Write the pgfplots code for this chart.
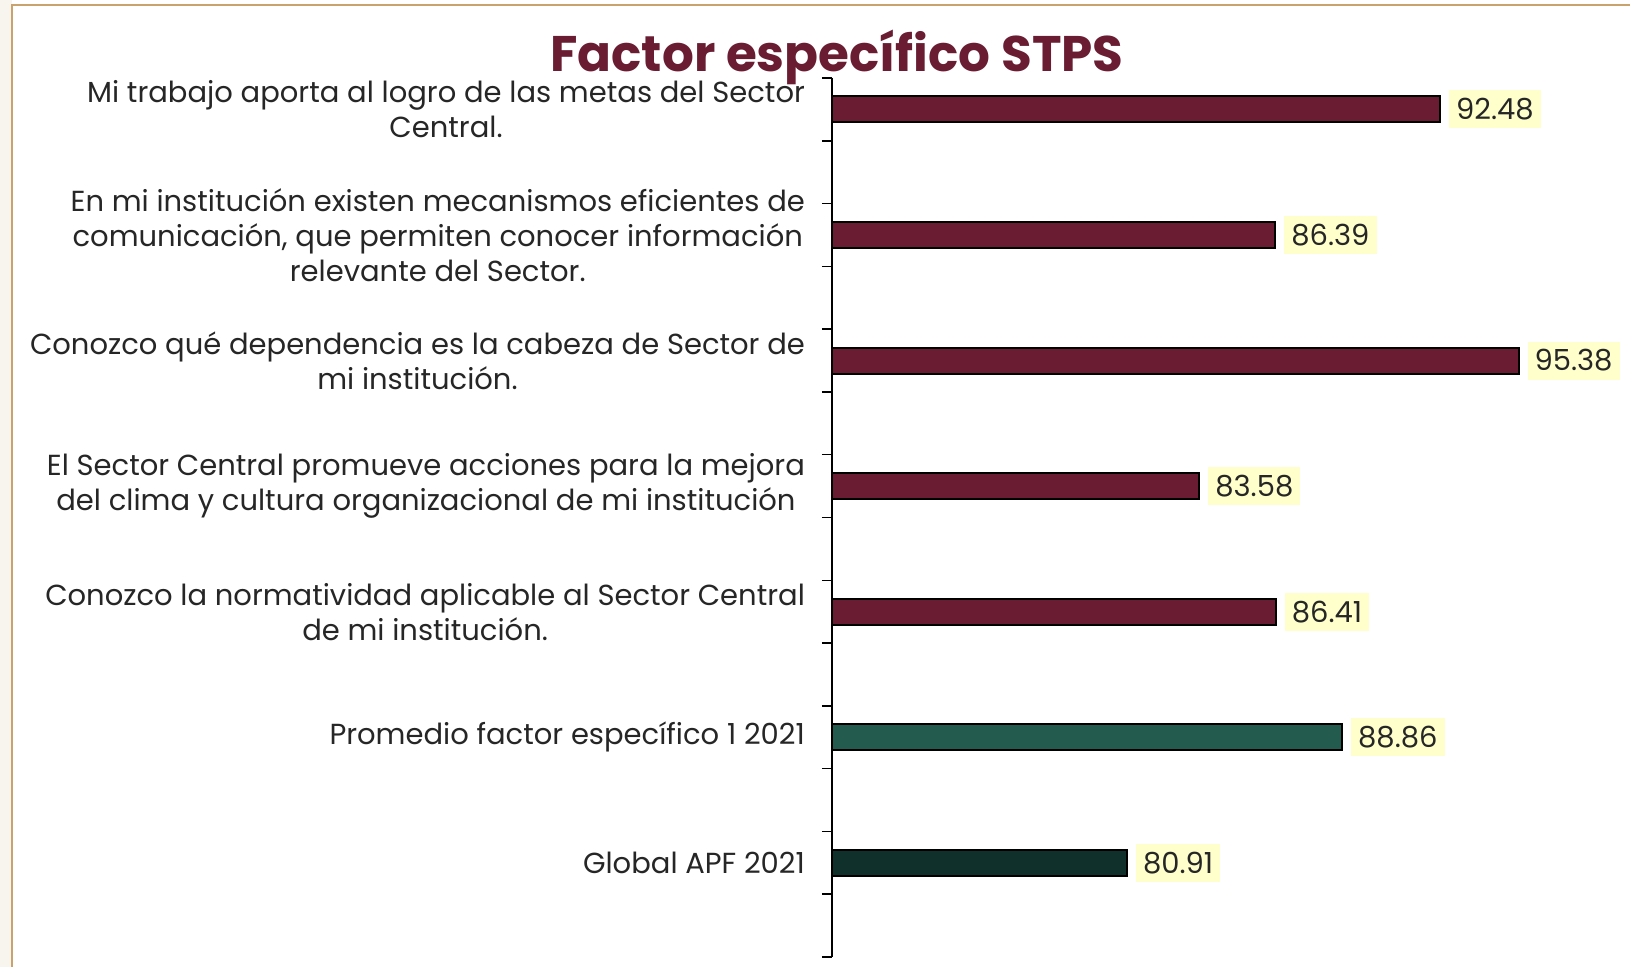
\documentclass[border=0pt]{standalone}
\usepackage{fontspec}
\setmainfont{Poppins}
\usepackage{pgfplots}
\pgfplotsset{compat=1.18}
\definecolor{guinda}{HTML}{691C32}
\definecolor{verde}{HTML}{235B4E}
\definecolor{verdeosc}{HTML}{10312B}
\definecolor{oro}{HTML}{C9A36B}
\definecolor{crema}{HTML}{F8F5EF}
\definecolor{amarillo}{HTML}{FFFFCC}
\definecolor{txt}{HTML}{262626}
\begin{document}
\begin{tikzpicture}
\useasboundingbox (0pt,0pt) rectangle (815pt,483.5pt);
\fill[crema] (0pt,0pt) rectangle (6pt,483.5pt);
\fill[white] (6pt,0pt) rectangle (815pt,481pt);
\draw[oro, line width=0.8pt] (6pt,0pt) -- (6pt,481pt) -- (815pt,481pt);
\node[font=\bfseries\fontsize{25}{29}\selectfont, text=guinda] at (418.5pt,455pt) {Factor específico STPS};
\begin{axis}[
  at={(416pt,5pt)}, anchor=south west,
  scale only axis, width=399pt, height=439.5pt,
  xbar, bar width=13pt, bar shift=0pt,
  xmin=70, xmax=99.5,
  ymin=-0.25, ymax=6.75, y dir=reverse,
  axis x line=none, axis y line=left,
  axis line style={-, black, line width=0.75pt},
  ytick={0,1,2,3,4,5,6},
  yticklabels={
    {Mi trabajo aporta al logro de las metas del Sector\\Central.},
    {En mi institución existen mecanismos eficientes de\\comunicación, que permiten conocer información\\relevante del Sector.},
    {Conozco qué dependencia es la cabeza de Sector de\\mi institución.},
    {El Sector Central promueve acciones para la mejora\\del clima y cultura organizacional de mi institución},
    {Conozco la normatividad aplicable al Sector Central\\de mi institución.},
    {Promedio factor específico 1 2021},
    {Global APF 2021}},
  yticklabel style={align=center, font=\fontsize{14.5}{17.5}\selectfont, text=txt, xshift=-10pt},
  major tick length=0pt, tick align=outside,
  extra y ticks={-0.25,0.25,0.75,1.25,1.75,2.25,2.75,3.25,3.75,4.25,4.75,5.25,5.75,6.25,6.75},
  extra y tick labels={},
  extra y tick style={major tick length=5pt, tick style={black, line width=0.75pt}},
  point meta=explicit symbolic,
  nodes near coords={\pgfplotspointmeta},
  every node near coord/.append style={anchor=west, xshift=4pt, fill=amarillo, inner xsep=3.5pt, inner ysep=4pt, text=txt, font=\fontsize{14.5}{17}\selectfont},
]
\addplot[fill=guinda, draw=black, line width=1pt] coordinates {(92.48,0)[92.48] (86.39,1)[86.39] (95.38,2)[95.38] (83.58,3)[83.58] (86.41,4)[86.41]};
\addplot[fill=verde, draw=black, line width=1pt] coordinates {(88.86,5)[88.86]};
\addplot[fill=verdeosc, draw=black, line width=1pt] coordinates {(80.91,6)[80.91]};
\end{axis}
\end{tikzpicture}
\end{document}
